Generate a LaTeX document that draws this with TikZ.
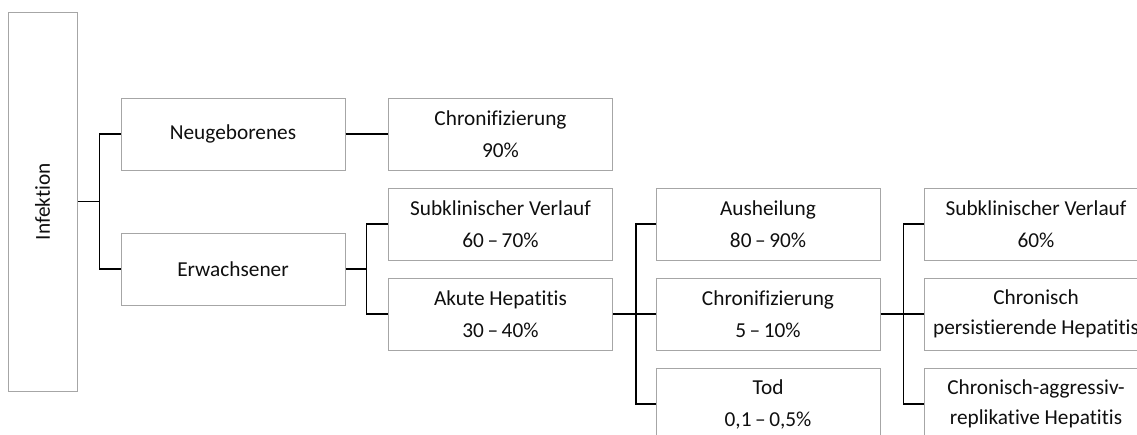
\documentclass[tikz,border=0pt]{standalone}
\usepackage{fontspec}
\setmainfont{Carlito}[Ligatures=NoCommon]
\definecolor{boxgray}{RGB}{166,166,166}
\definecolor{txt}{RGB}{15,15,15}
\tikzset{
  box/.style={draw=boxgray, line width=1pt, rectangle, align=center, inner sep=0pt,
    minimum width=224pt, minimum height=72pt, text=txt,
    font=\fontsize{21.3}{30}\selectfont},
  conn/.style={draw=black, line width=1.4pt}
}
\begin{document}
\begin{tikzpicture}[x=1pt,y=-1pt]
\path[use as bounding box] (0,0) rectangle (1137,434);
\clip (0,0) rectangle (1137,434);
\node[box, minimum width=69pt, minimum height=379pt] (inf) at (42.5,201.5) {\rotatebox{90}{Infektion}};
\node[box] (neu) at (233,134) {Neugeborenes};
\node[box] (erw) at (233,269) {Erwachsener};
\node[box] (chr1) at (500.5,134) {Chronifizierung\\[2pt]90\%};
\node[box] (sub1) at (500.5,224) {Subklinischer Verlauf\\[2pt]60\,–\,70\%};
\node[box] (aku) at (500.5,314) {Akute Hepatitis\\[2pt]30\,–\,40\%};
\node[box] (aus) at (768,224) {Ausheilung\\[2pt]80\,–\,90\%};
\node[box] (chr2) at (768,314) {Chronifizierung\\[2pt]5\,–\,10\%};
\node[box] (tod) at (768,404) {Tod\\[2pt]0,1\,–\,0,5\%};
\node[box] (sub2) at (1036,224) {Subklinischer Verlauf\\[2pt]60\%};
\node[box] (cph) at (1036,314) {Chronisch\\persistierende Hepatitis};
\node[box] (cah) at (1036,404) {Chronisch-aggressiv-\\replikative Hepatitis};
\draw[conn] (inf.east) -- ++(22,0) coordinate (j1);
\draw[conn] (j1) |- (neu.west);
\draw[conn] (j1) |- (erw.west);
\draw[conn] (neu.east) -- (chr1.west);
\draw[conn] (erw.east) -- ++(21,0) coordinate (j2);
\draw[conn] (j2) |- (sub1.west);
\draw[conn] (j2) |- (aku.west);
\draw[conn] (aku.east) -- ++(23,0) coordinate (j3);
\draw[conn] (j3) |- (aus.west);
\draw[conn] (j3) |- (chr2.west);
\draw[conn] (j3) |- (tod.west);
\draw[conn] (chr2.east) -- ++(23,0) coordinate (j4);
\draw[conn] (j4) |- (sub2.west);
\draw[conn] (j4) |- (cph.west);
\draw[conn] (j4) |- (cah.west);
\end{tikzpicture}
\end{document}
